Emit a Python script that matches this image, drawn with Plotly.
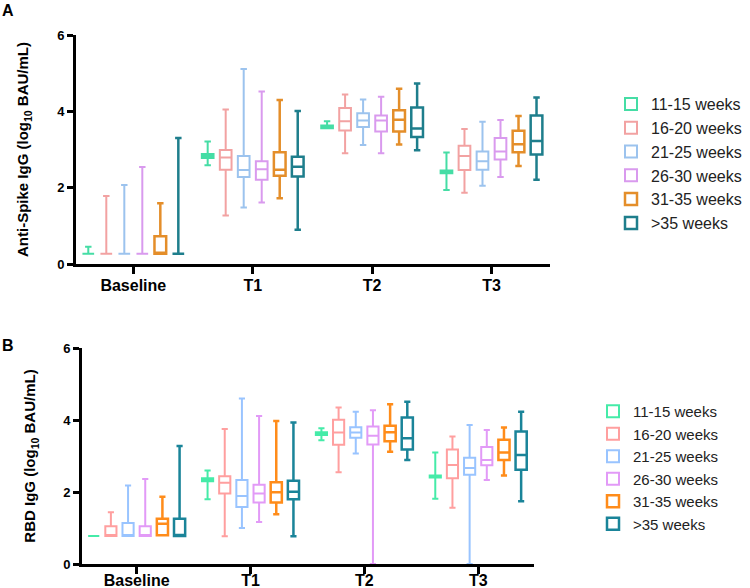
import plotly.graph_objects as go

timepoints = ["Baseline", "T1", "T2", "T3"]
groups = ["11-15 weeks", "16-20 weeks", "21-25 weeks", "26-30 weeks", "31-35 weeks", ">35 weeks"]

# ---- Panel A: Anti-Spike IgG (log10 BAU/mL); one row per group, columns = timepoints
spike_lower = [
    [0.27, 2.59, 3.56, 1.94],
    [0.27, 1.27, 2.90, 1.87],
    [0.27, 1.48, 3.12, 2.05],
    [0.27, 1.61, 2.90, 2.28],
    [0.27, 1.72, 3.13, 2.57],
    [0.27, 0.90, 2.98, 2.21],
]
spike_q1 = [
    [0.27, 2.78, 3.56, 2.38],
    [0.27, 2.47, 3.50, 2.46],
    [0.27, 2.28, 3.59, 2.47],
    [0.27, 2.21, 3.47, 2.74],
    [0.27, 2.31, 3.47, 2.93],
    [0.27, 2.29, 3.33, 2.87],
]
spike_median = [
    [0.27, 2.83, 3.59, 2.41],
    [0.27, 2.79, 3.74, 2.83],
    [0.27, 2.46, 3.76, 2.69],
    [0.27, 2.48, 3.76, 2.95],
    [0.29, 2.47, 3.78, 3.14],
    [0.27, 2.55, 3.55, 3.22],
]
spike_q3 = [
    [0.27, 2.88, 3.63, 2.45],
    [0.27, 2.99, 4.09, 3.10],
    [0.27, 2.83, 3.95, 2.95],
    [0.27, 2.69, 3.89, 3.30],
    [0.73, 2.93, 4.03, 3.49],
    [0.27, 2.81, 4.10, 3.89],
]
spike_upper = [
    [0.45, 3.21, 3.74, 2.92],
    [1.78, 4.05, 4.44, 3.54],
    [2.07, 5.11, 4.31, 3.73],
    [2.54, 4.52, 4.38, 3.77],
    [1.59, 4.30, 4.59, 3.88],
    [3.30, 4.01, 4.73, 4.36],
]

# ---- Panel B: RBD IgG (log10 BAU/mL)
rbd_lower = [
    [0.78, 1.80, 3.44, 1.81],
    [0.78, 0.77, 2.55, 1.56],
    [0.78, 1.00, 3.07, 0.00],
    [0.78, 1.17, 0.00, 2.33],
    [0.80, 1.38, 3.12, 2.46],
    [0.78, 0.77, 2.89, 1.74],
]
rbd_q1 = [
    [0.78, 2.30, 3.58, 2.40],
    [0.78, 1.96, 3.31, 2.38],
    [0.78, 1.58, 3.51, 2.48],
    [0.78, 1.71, 3.32, 2.74],
    [0.80, 1.71, 3.41, 2.89],
    [0.78, 1.80, 3.18, 2.62],
]
rbd_median = [
    [0.78, 2.34, 3.62, 2.43],
    [0.78, 2.26, 3.65, 2.75],
    [0.78, 1.89, 3.65, 2.67],
    [0.78, 1.96, 3.56, 2.89],
    [1.12, 1.99, 3.66, 3.10],
    [0.78, 2.01, 3.49, 3.03],
]
rbd_q3 = [
    [0.78, 2.38, 3.66, 2.46],
    [1.05, 2.44, 4.01, 3.18],
    [1.14, 2.33, 3.80, 2.95],
    [1.05, 2.20, 3.82, 3.25],
    [1.26, 2.27, 3.84, 3.45],
    [1.26, 2.31, 4.07, 3.68],
]
rbd_upper = [
    [0.78, 2.60, 3.77, 3.10],
    [1.44, 3.75, 4.35, 3.54],
    [2.18, 4.60, 4.23, 3.86],
    [2.36, 4.11, 4.27, 3.72],
    [1.87, 3.97, 4.44, 3.79],
    [3.28, 3.93, 4.51, 4.23],
]

colors_a = ["#45DDA5", "#F2A2A2", "#9CC3EE", "#D99AEE", "#E48E2A", "#1E7E8C"]
colors_b = ["#45EBA8", "#FF9F9F", "#99C4FF", "#E29AF7", "#FF8C1A", "#1A8499"]
widths = [2, 2, 2, 2, 2.5, 2.5]

FONT = "Liberation Sans, Arial, sans-serif"

fig = go.Figure()

for i, g in enumerate(groups):
    fig.add_trace(go.Box(
        x=timepoints, q1=spike_q1[i], median=spike_median[i], q3=spike_q3[i],
        lowerfence=spike_lower[i], upperfence=spike_upper[i],
        name=g, marker_color=colors_a[i], line=dict(color=colors_a[i], width=widths[i]),
        fillcolor="rgba(0,0,0,0)", whiskerwidth=0.55, boxpoints=False,
        xaxis="x", yaxis="y", legend="legend", offsetgroup=str(i),
    ))
for i, g in enumerate(groups):
    fig.add_trace(go.Box(
        x=timepoints, q1=rbd_q1[i], median=rbd_median[i], q3=rbd_q3[i],
        lowerfence=rbd_lower[i], upperfence=rbd_upper[i],
        name=g, marker_color=colors_b[i], line=dict(color=colors_b[i], width=widths[i]),
        fillcolor="rgba(0,0,0,0)", whiskerwidth=0.55, boxpoints=False,
        xaxis="x2", yaxis="y2", legend="legend2", offsetgroup=str(i),
    ))

W, H = 750, 588

def xdom(a, b):
    return [a / W, b / W]

def ydom(top, bottom):
    return [1 - bottom / H, 1 - top / H]

common_x = dict(
    type="category", categoryorder="array", categoryarray=timepoints,
    range=[-0.48, 3.49], showline=True, linecolor="black", linewidth=3,
    ticks="outside", ticklen=7, tickwidth=2.5, tickcolor="black",
    tickfont=dict(family=FONT, size=16, color="black", weight="bold"),
    showgrid=False, zeroline=False, fixedrange=True, automargin=False,
)
common_y = dict(
    range=[0, 6], tickvals=[0, 2, 4, 6], showline=True, linecolor="black", linewidth=3,
    ticks="outside", ticklen=6, tickwidth=2.5, tickcolor="black",
    tickfont=dict(family=FONT, size=13, color="black", weight="bold"),
    showgrid=False, zeroline=False, fixedrange=True, automargin=False,
)

fig.update_layout(
    width=W, height=H,
    margin=dict(l=0, r=0, t=0, b=0, autoexpand=False),
    paper_bgcolor="white", plot_bgcolor="white",
    boxmode="group", boxgap=0.095, boxgroupgap=0.35,
    font=dict(family=FONT, color="black"),
    xaxis=dict(domain=xdom(76, 550), anchor="y", ticklabelstandoff=-2, **common_x),
    yaxis=dict(domain=ydom(35, 264), anchor="x",
               title=dict(text="Anti-Spike IgG (log<sub>10</sub> BAU/mL)", standoff=25,
                          font=dict(family=FONT, size=15, color="black", weight="bold")),
               **common_y),
    xaxis2=dict(domain=xdom(82, 534), anchor="y2", ticklabelstandoff=-7, **common_x),
    yaxis2=dict(domain=ydom(348, 564), anchor="x2",
                title=dict(text="RBD IgG (log<sub>10</sub> BAU/mL)", standoff=24,
                           font=dict(family=FONT, size=15, color="black", weight="bold")),
                **common_y),
    legend=dict(x=611 / W, y=1 - 87 / H, xanchor="left", yanchor="top",
                font=dict(family=FONT, size=16, color="#222"), bgcolor="rgba(0,0,0,0)",
                traceorder="normal"),
    legend2=dict(x=593 / W, y=1 - 395 / H, xanchor="left", yanchor="top",
                 font=dict(family=FONT, size=15, color="#222"), bgcolor="rgba(0,0,0,0)",
                 traceorder="normal"),
    annotations=[
        dict(text="<b>A</b>", x=0 / W, y=1 - 0 / H, xref="paper", yref="paper",
             xanchor="left", yanchor="top", showarrow=False,
             font=dict(family=FONT, size=16, color="black")),
        dict(text="<b>B</b>", x=0 / W, y=1 - 335 / H, xref="paper", yref="paper",
             xanchor="left", yanchor="top", showarrow=False,
             font=dict(family=FONT, size=16, color="black")),
    ],
    showlegend=True,
)

fig.write_html("out.html", config={"displayModeBar": False},
               post_script="document.body.style.margin='0px';")
